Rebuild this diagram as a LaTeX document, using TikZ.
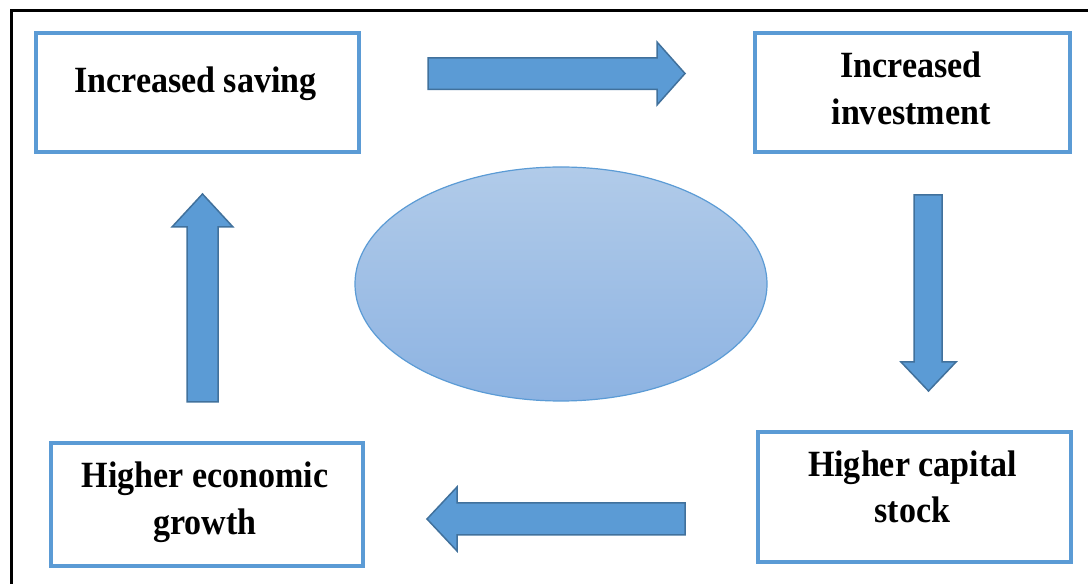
\documentclass[tikz,border=0pt]{standalone}
\usepackage{fontspec}
\setmainfont{Liberation Serif}
\definecolor{boxblue}{HTML}{5B9BD5}
\definecolor{arrfill}{HTML}{5B9BD5}
\definecolor{arrline}{HTML}{41719C}
\definecolor{elltop}{HTML}{B1CBE9}
\definecolor{ellbot}{HTML}{8DB3E2}
\newcommand{\lbl}[1]{\scalebox{0.92}[1]{#1}}
\tikzset{
  cbox/.style={draw=boxblue, line width=4pt, fill=white, rectangle, inner sep=0pt, outer sep=0pt},
  ltxt/.style={anchor=base, inner sep=0pt, font=\fontsize{37}{44}\selectfont\bfseries},
  blockarr/.style={fill=arrfill, draw=arrline, line width=1.5pt, line join=miter},
}
\begin{document}
\begin{tikzpicture}[x=1pt,y=1pt]
\useasboundingbox (0,0) rectangle (1088,584);
% outer frame
\draw[line width=3pt] (11,-5) -- (11,573) -- (1095,573);
% boxes
\node[cbox, minimum width=323.5pt, minimum height=119pt] (sav) at (197.25,491.5) {};
\node[cbox, minimum width=315pt, minimum height=119pt] (inv) at (912.5,491.5) {};
\node[cbox, minimum width=312.5pt, minimum height=123pt] (gro) at (206.75,79.5) {};
\node[cbox, minimum width=312.7pt, minimum height=130.3pt] (cap) at (914.3,87.1) {};
% texts
\node[ltxt] (sav1) at (195.5,491.3) {\lbl{Increased saving}};
\node[ltxt] (inv1) at (911,506) {\lbl{Increased}};
\node[ltxt] (inv2) at (911,459) {\lbl{investment}};
\node[ltxt] (gro1) at (205,96) {\lbl{Higher economic}};
\node[ltxt] (gro2) at (205,49) {\lbl{growth}};
\node[ltxt] (cap1) at (912.5,107) {\lbl{Higher capital}};
\node[ltxt] (cap2) at (912.5,61) {\lbl{stock}};
% ellipse
\coordinate (ec) at (561,300);
\shade[top color=elltop, bottom color=ellbot] (ec) ellipse [x radius=206, y radius=117];
\draw[boxblue, line width=1.2pt] (ec) ellipse [x radius=206, y radius=117];
% block arrows
\draw[blockarr] (428,526) -- (657,526) -- (657,542) -- (685,510.5) -- (657,479) -- (657,494.5) -- (428,494.5) -- cycle;
\draw[blockarr] (685,81) -- (457,81) -- (457,97) -- (427,65) -- (457,33) -- (457,49) -- (685,49) -- cycle;
\draw[blockarr] (187,182) -- (187,357) -- (172,357) -- (202.5,390) -- (233,357) -- (218,357) -- (218,182) -- cycle;
\draw[blockarr] (914,389) -- (914,222) -- (901,222) -- (928.5,193) -- (956,222) -- (942,222) -- (942,389) -- cycle;
\end{tikzpicture}
\end{document}
